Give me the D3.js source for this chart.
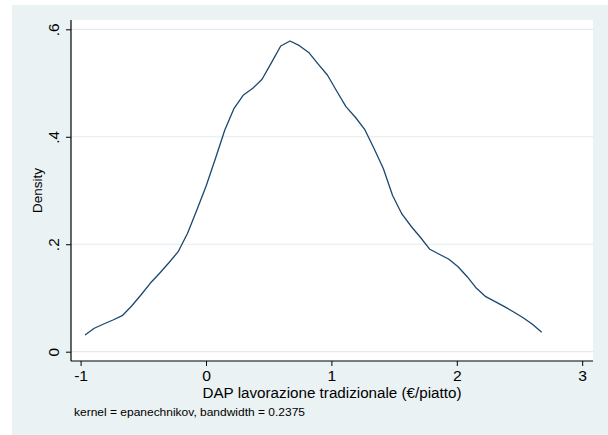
<!DOCTYPE html>
<html>
<head>
<meta charset="utf-8">
<script src="https://cdn.jsdelivr.net/npm/d3@7"></script>
<style>
  html, body { margin: 0; padding: 0; background: #ffffff; }
  svg { display: block; font-family: "Liberation Sans", Arial, Helvetica, sans-serif; }
</style>
</head>
<body>
<svg id="chart" width="608" height="435"></svg>
<script>
// Kernel density estimate of DAP (€/piatto), evaluated on 50 grid points
const gridX = [
  -0.965, -0.891, -0.816, -0.742, -0.668, -0.593, -0.519, -0.445, -0.370, -0.296,
  -0.222, -0.147, -0.073, 0.001, 0.076, 0.150, 0.224, 0.299, 0.373, 0.447,
  0.522, 0.596, 0.670, 0.745, 0.819, 0.893, 0.968, 1.042, 1.116, 1.191,
  1.265, 1.339, 1.414, 1.488, 1.562, 1.637, 1.711, 1.785, 1.860, 1.934,
  2.008, 2.083, 2.157, 2.231, 2.306, 2.380, 2.454, 2.529, 2.603, 2.677
];
const density = [
  0.0311, 0.0436, 0.0516, 0.0590, 0.0670, 0.0851, 0.1055, 0.1273, 0.1459, 0.1656,
  0.1861, 0.2204, 0.2637, 0.3084, 0.3600, 0.4126, 0.4530, 0.4778, 0.4902, 0.5070,
  0.5379, 0.5690, 0.5783, 0.5695, 0.5569, 0.5358, 0.5150, 0.4852, 0.4560, 0.4363,
  0.4139, 0.3786, 0.3410, 0.2907, 0.2563, 0.2330, 0.2125, 0.1906, 0.1813, 0.1725,
  0.1586, 0.1396, 0.1180, 0.1024, 0.0931, 0.0838, 0.0739, 0.0633, 0.0510, 0.0361
];
const xTicks = [-1, 0, 1, 2, 3];
const xTickLabels = ["-1", "0", "1", "2", "3"];
const yTicks = [0, 0.2, 0.4, 0.6];
const yTickLabels = ["0", ".2", ".4", ".6"];
const xTitle = "DAP lavorazione tradizionale (€/piatto)";
const yTitle = "Density";
const note = "kernel = epanechnikov, bandwidth = 0.2375";

const svg = d3.select("#chart");

// Graph region and plot region
const outer = { x0: 12, y0: 5, x1: 608, y1: 435 };
const plot = { left: 71, right: 593, top: 20, bottom: 361 };

svg.append("rect")
  .attr("x", outer.x0).attr("y", outer.y0)
  .attr("width", outer.x1 - outer.x0).attr("height", outer.y1 - outer.y0)
  .attr("fill", "#eaf2f3");

svg.append("rect")
  .attr("x", plot.left).attr("y", plot.top)
  .attr("width", plot.right - plot.left).attr("height", plot.bottom - plot.top)
  .attr("fill", "#ffffff");

const x = d3.scaleLinear().domain([-1, 3]).range([80.6, 582.2]);
const y = d3.scaleLinear().domain([0, 0.6]).range([351.7, 29.3]);

// Horizontal grid lines
svg.append("g")
  .selectAll("line")
  .data(yTicks)
  .join("line")
  .attr("x1", plot.left).attr("x2", plot.right)
  .attr("y1", d => y(d)).attr("y2", d => y(d))
  .attr("stroke", "#e3ecef")
  .attr("stroke-width", 1.2);

// Y axis
const yAxis = d3.axisLeft(y)
  .tickValues(yTicks)
  .tickFormat((d, i) => yTickLabels[i])
  .tickSize(5)
  .tickPadding(6);
const gy = svg.append("g").attr("transform", `translate(${plot.left},0)`).call(yAxis);
gy.select(".domain").remove();
gy.selectAll(".tick line").attr("stroke", "#000").attr("stroke-width", 1);
gy.selectAll(".tick text")
  .attr("font-size", 14)
  .attr("fill", "#000")
  .attr("text-anchor", "middle")
  .attr("dy", null)
  .attr("x", null)
  .attr("transform", "translate(-16,0) rotate(-90) scale(1.1,1)")
  .attr("dominant-baseline", "middle");
svg.append("line")
  .attr("x1", plot.left).attr("x2", plot.left)
  .attr("y1", plot.top).attr("y2", plot.bottom)
  .attr("stroke", "#000").attr("stroke-width", 1.2);

// X axis
const xAxis = d3.axisBottom(x)
  .tickValues(xTicks)
  .tickFormat((d, i) => xTickLabels[i])
  .tickSize(5)
  .tickPadding(5);
const gx = svg.append("g").attr("transform", `translate(0,${plot.bottom})`).call(xAxis);
gx.select(".domain").remove();
gx.selectAll(".tick line").attr("stroke", "#000").attr("stroke-width", 1);
gx.selectAll(".tick text")
  .attr("font-size", 14)
  .attr("fill", "#000")
  .attr("transform", "scale(1.12,1)");
svg.append("line")
  .attr("x1", plot.left).attr("x2", plot.right)
  .attr("y1", plot.bottom).attr("y2", plot.bottom)
  .attr("stroke", "#000").attr("stroke-width", 1.2);

// Density curve
const pts = gridX.map((v, i) => [v, density[i]]);
svg.append("path")
  .datum(pts)
  .attr("fill", "none")
  .attr("stroke", "#1a476f")
  .attr("stroke-width", 1.3)
  .attr("stroke-linejoin", "round")
  .attr("d", d3.line().x(d => x(d[0])).y(d => y(d[1])));

// Titles and note
svg.append("text")
  .attr("x", (plot.left + plot.right) / 2)
  .attr("y", 398)
  .attr("text-anchor", "middle")
  .attr("font-size", 14)
  .attr("fill", "#000")
  .attr("textLength", 259)
  .attr("lengthAdjust", "spacingAndGlyphs")
  .text(xTitle);

svg.append("text")
  .attr("transform", `translate(42,${(y(0) + y(0.6)) / 2}) rotate(-90)`)
  .attr("text-anchor", "middle")
  .attr("font-size", 13.5)
  .attr("fill", "#000")
  .text(yTitle);

svg.append("text")
  .attr("x", 74)
  .attr("y", 416)
  .attr("font-size", 11)
  .attr("fill", "#000")
  .attr("textLength", 231)
  .attr("lengthAdjust", "spacingAndGlyphs")
  .text(note);
</script>
</body>
</html>
